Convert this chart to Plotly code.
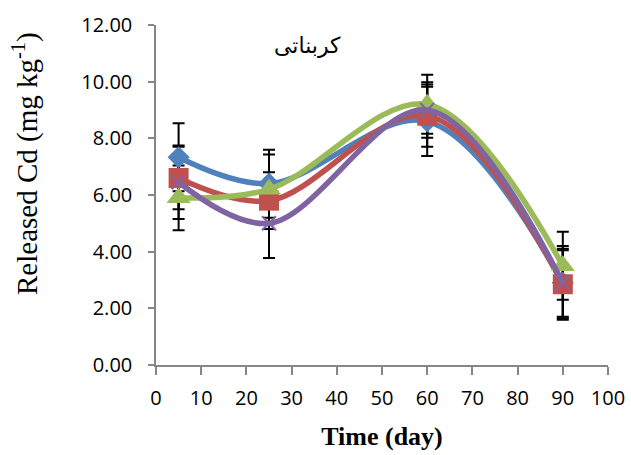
import plotly.graph_objects as go

# Sampling days and released Cd per treatment (mg/kg) with standard deviations
days = [5, 25, 60, 90]

series_names = ["T1", "T2", "T3", "T4"]
blue_vals = [7.33, 6.40, 8.60, 2.90]
blue_err = [1.20, 1.20, 1.22, 1.20]
red_vals = [6.60, 5.80, 8.80, 2.85]
red_err = [1.10, 1.00, 1.10, 1.20]
green_vals = [5.90, 6.20, 9.20, 3.50]
green_err = [1.14, 1.23, 1.04, 1.20]
purple_vals = [6.45, 5.00, 9.00, 2.90]
purple_err = [1.30, 1.22, 0.98, 1.30]

x_ticks = list(range(0, 101, 10))
y_ticks = [0, 2, 4, 6, 8, 10, 12]

colors = ["#4F81BD", "#C0504D", "#9BBB59", "#8064A2"]
values = [blue_vals, red_vals, green_vals, purple_vals]
errors = [blue_err, red_err, green_err, purple_err]
symbols = ["diamond", "square", "triangle-up", "x-thin"]
sizes = [17, 20, 21, 14]

W, H = 631, 455
plot_l, plot_r, plot_t, plot_b = 156, 23, 25, 90
plot_w, plot_h = W - plot_l - plot_r, H - plot_t - plot_b


def px_to_paper(px, py):
    return (px - plot_l) / plot_w, (H - plot_b - py) / plot_h


fig = go.Figure()

# error bars underneath the curves
for name, v, e in zip(series_names, values, errors):
    fig.add_trace(go.Scatter(
        x=days, y=v, mode="markers", showlegend=False, hoverinfo="skip",
        marker=dict(size=1, color="rgba(0,0,0,0)"),
        error_y=dict(type="data", array=e, visible=True, color="black",
                     thickness=2, width=6),
    ))

# smoothed series lines with markers
for name, v, c, s, sz in zip(series_names, values, colors, symbols, sizes):
    marker = dict(symbol=s, size=sz, color=c)
    if s == "x-thin":
        marker["line"] = dict(color=c, width=2)
    fig.add_trace(go.Scatter(
        x=days, y=v, name=name, mode="lines+markers",
        line=dict(color=c, width=5.5, shape="spline", smoothing=1.0),
        marker=marker, showlegend=False,
    ))

axis_color = "#868686"
fig.update_layout(
    width=W, height=H,
    margin=dict(l=plot_l, r=plot_r, t=plot_t, b=plot_b),
    paper_bgcolor="white", plot_bgcolor="white",
    font=dict(family="Open Sans", size=20, color="black"),
    xaxis=dict(
        range=[0, 100], tickvals=x_ticks, ticktext=[str(t) for t in x_ticks],
        showgrid=False, zeroline=False, showline=True, linecolor=axis_color,
        linewidth=1.5, ticks="outside", ticklen=8, tickcolor=axis_color,
        tickwidth=1.5, ticklabelstandoff=6, automargin=False,
        title=dict(text="<b>Time (day)</b>",
                   font=dict(family="Liberation Serif", size=26), standoff=17),
    ),
    yaxis=dict(
        range=[0, 12], tickvals=y_ticks, tickformat=".2f",
        showgrid=False, zeroline=False, showline=True, linecolor=axis_color,
        linewidth=1.5, ticks="outside", ticklen=6, tickcolor=axis_color,
        tickwidth=1.5, ticklabelstandoff=12, automargin=False,
    ),
)

# y-axis title, raised above the axis centre
yx, yy = px_to_paper(25, 164)
fig.add_annotation(
    x=yx, y=yy, xref="paper", yref="paper", text="Released Cd (mg kg<sup>-1</sup>)",
    textangle=-90, showarrow=False, xanchor="center", yanchor="middle",
    font=dict(family="Liberation Serif", size=29, color="black"),
)

# fraction label inside the plot
tx, ty = px_to_paper(272, 45)
fig.add_annotation(
    x=tx, y=ty, xref="paper", yref="paper", text="کربناتی",
    showarrow=False, xanchor="left", yanchor="middle",
    font=dict(family="DejaVu Sans", size=22, color="black"),
)

fig.write_html("out.html")
